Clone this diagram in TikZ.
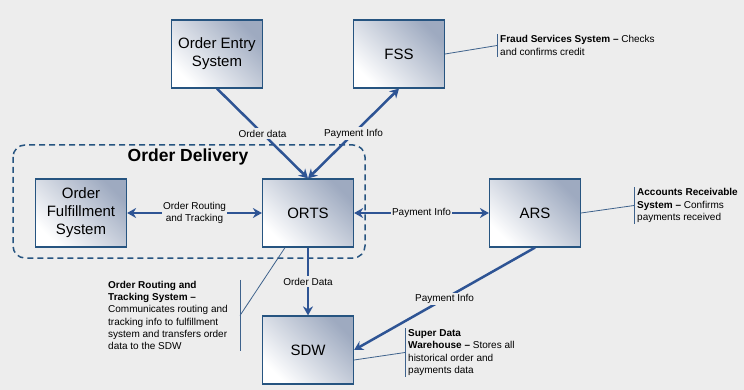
\documentclass[tikz,border=0pt]{standalone}
\usepackage{fontspec}
\setmainfont{Liberation Sans}
\definecolor{odbg}{RGB}{237,237,237}
\definecolor{odborder}{RGB}{38,84,128}
\definecolor{odarrow}{RGB}{46,84,148}
\definecolor{odshade}{RGB}{158,170,192}
\definecolor{odnote}{RGB}{62,98,140}
\usetikzlibrary{arrows.meta,calc}

\begin{document}
\begin{tikzpicture}[x=1pt,y=-1pt,
    sysbox/.style={draw=odborder,line width=1.2pt,top color=odshade,bottom color=white,
      shading angle=-45,minimum width=91pt,minimum height=68pt,align=center,
      font=\fontsize{15}{18}\selectfont},
    flow/.style={draw=odarrow,line width=2.5pt,-{Stealth[length=9pt,width=10pt]}},
    biflow/.style={flow,{Stealth[length=9pt,width=10pt]}-{Stealth[length=9pt,width=10pt]}},
    flowlabel/.style={fill=odbg,inner sep=1.5pt,align=center,font=\fontsize{10}{12}\selectfont},
    note/.style={align=left,inner xsep=3pt,inner ysep=1pt,font=\fontsize{10}{12.3}\selectfont},
    noteline/.style={draw=odnote,line width=0.8pt}]

  %% background and page size
  \fill[odbg] (0,0) rectangle (744,390);
  \useasboundingbox (0,0) rectangle (744,390);

  %% Order Delivery group
  \draw[odborder,line width=1.5pt,dash pattern=on 6pt off 4pt,rounded corners=12pt]
    (13,145) rectangle (365,258);
  \node[font=\fontsize{17.5}{20}\selectfont\bfseries] (deltitle) at (188,157) {Order Delivery};

  %% Systems
  \node[sysbox] (oes)  at (217,54)  {Order Entry\\System};
  \node[sysbox] (fss)  at (399,54)  {FSS};
  \node[sysbox] (ofs)  at (81,213)  {Order\\Fulfillment\\System};
  \node[sysbox] (orts) at (308,213) {ORTS};
  \node[sysbox] (ars)  at (535,213) {ARS};
  \node[sysbox] (sdw)  at (308,350) {SDW};

  %% Data flows
  \draw[flow]   (oes.south) -- node[flowlabel] {Order data} (orts.north);
  \draw[biflow] (orts.north) -- node[flowlabel] {Payment Info} (fss.south);
  \draw[biflow] (ofs.east) -- node[flowlabel] {Order Routing\\and Tracking} (orts.west);
  \draw[biflow] (orts.east) -- node[flowlabel] {Payment Info} (ars.west);
  \draw[flow]   (orts.south) -- node[flowlabel] {Order Data} (sdw.north);
  \draw[flow]   (ars.south) -- node[flowlabel] {Payment Info} (sdw.east);

  %% Notes
  \node[note,anchor=west] (fssnote) at (497,45.5)
    {\textbf{Fraud Services System –} Checks\\and confirms credit};
  \draw[noteline] (fssnote.north west) -- (fssnote.south west);
  \draw[noteline] (fss.east) -- (fssnote.west);

  \node[note,anchor=west] (arsnote) at (634,205.5)
    {\textbf{Accounts Receivable}\\\textbf{System –} Confirms\\payments received};
  \draw[noteline] (arsnote.north west) -- (arsnote.south west);
  \draw[noteline] (ars.east) -- (arsnote.west);

  \node[note,anchor=west] (sdwnote) at (405,352.5)
    {\textbf{Super Data}\\\textbf{Warehouse –} Stores all\\historical order and\\payments data};
  \draw[noteline] (sdwnote.north west) -- (sdwnote.south west);
  \draw[noteline] ([yshift=-10pt]sdw.east) -- (sdwnote.west);

  \node[note,anchor=west,inner xsep=0pt] (ortsnote) at (108,315.5)
    {\textbf{Order Routing and}\\\textbf{Tracking System –}\\Communicates routing and\\tracking info to fulfillment\\system and transfers order\\data to the SDW};
  \coordinate (ortsbar) at (240,315.5);
  \draw[noteline] (ortsbar |- ortsnote.north) -- (ortsbar |- ortsnote.south);
  \draw[noteline] ([xshift=-23pt]orts.south) -- (ortsbar);
\end{tikzpicture}
\end{document}
